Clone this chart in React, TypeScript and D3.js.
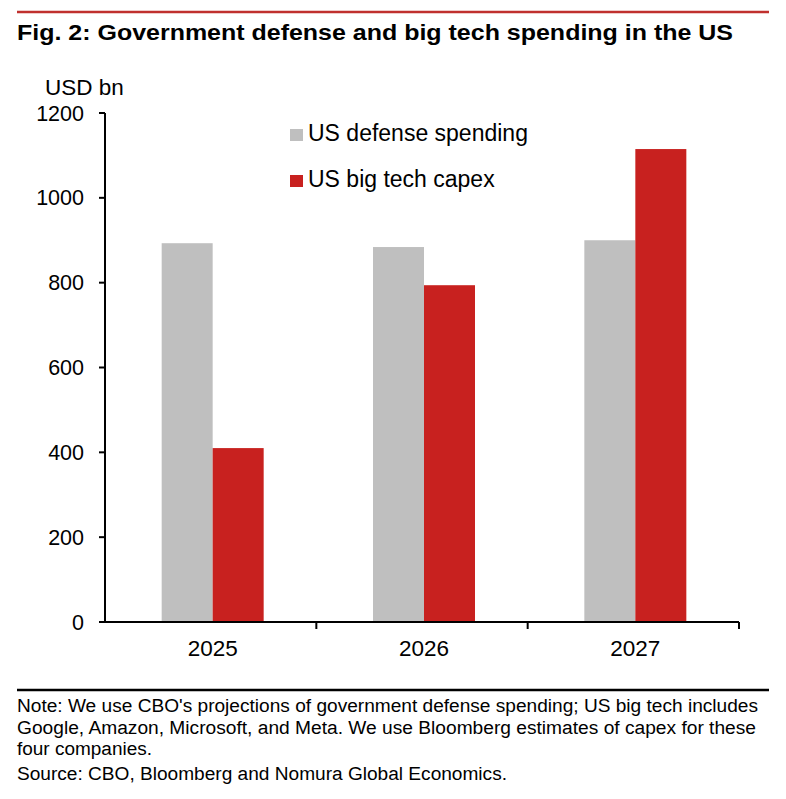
import * as d3 from 'd3';

const years = ['2025', '2026', '2027'];
const defenseSpending = [893, 884, 900];
const bigTechCapex = [410, 794, 1115];
const yTicks = [0, 200, 400, 600, 800, 1000, 1200];
const seriesNames = ['US defense spending', 'US big tech capex'];
const seriesColors = ['#bfbfbf', '#c8211f'];

const noteLines = [
  "Note: We use CBO's projections of government defense spending; US big tech includes",
  'Google, Amazon, Microsoft, and Meta. We use Bloomberg estimates of capex for these',
  'four companies.',
];
const sourceLine = 'Source: CBO, Bloomberg and Nomura Global Economics.';

const W = 786;
const H = 799;
const font = 'Liberation Sans, Arial, sans-serif';

export default function App() {
  const left = 105;
  const right = 739;
  const top = 113;
  const bottom = 622;

  const x = d3.scaleBand<string>().domain(years).range([left, right]);
  const y = d3.scaleLinear().domain([0, 1200]).range([bottom, top]);

  const barW = 51;
  const barShift = 2; // bars sit slightly right of the band centre in the original
  const series = [defenseSpending, bigTechCapex];
  // measured widths of the note lines in the original
  const noteWidths = [741, 739, 135];

  return (
    <svg
      width={W}
      height={H}
      style={{ position: 'absolute', left: 0, top: 0, background: '#fff' }}
      fontFamily={font}
    >
      <line x1={17} x2={769} y1={12} y2={12} stroke="#c0302e" strokeWidth={2.5} />
      <text x={17} y={40} fontSize={22.5} fontWeight="bold" fill="#000" textLength={716} lengthAdjust="spacingAndGlyphs">
        Fig. 2: Government defense and big tech spending in the US
      </text>

      <text x={45} y={95} fontSize={22.5} fill="#000">USD bn</text>

      {/* bars */}
      {years.map((yr, i) => {
        const cx = (x(yr) as number) + x.bandwidth() / 2 + barShift;
        return series.map((s, k) => (
          <rect
            key={yr + k}
            x={cx - barW + k * barW}
            y={y(s[i])}
            width={barW}
            height={y(0) - y(s[i])}
            fill={seriesColors[k]}
          />
        ));
      })}

      {/* y axis */}
      <line x1={left} x2={left} y1={top} y2={bottom} stroke="#000" strokeWidth={2} />
      {yTicks.map((t) => (
        <g key={t}>
          <line x1={left - 6} x2={left} y1={y(t)} y2={y(t)} stroke="#000" strokeWidth={2} />
          <text x={84} y={y(t) + 7.5} fontSize={21.5} textAnchor="end" fill="#000">
            {t}
          </text>
        </g>
      ))}

      {/* x axis */}
      <line x1={left} x2={right} y1={bottom} y2={bottom} stroke="#000" strokeWidth={2} />
      {years.map((yr) => (
        <line
          key={'t' + yr}
          x1={(x(yr) as number) + x.bandwidth()}
          x2={(x(yr) as number) + x.bandwidth()}
          y1={bottom}
          y2={bottom + 7}
          stroke="#000"
          strokeWidth={2}
        />
      ))}
      {years.map((yr) => (
        <text
          key={'l' + yr}
          x={(x(yr) as number) + x.bandwidth() / 2 + barShift}
          y={656}
          fontSize={22.5}
          textAnchor="middle"
          fill="#000"
        >
          {yr}
        </text>
      ))}

      {/* legend */}
      {seriesNames.map((n, k) => (
        <g key={n}>
          <rect x={290} y={129 + k * 46} width={13} height={12} fill={seriesColors[k]} />
          <text x={308} y={141 + k * 46} fontSize={23} fill="#000">
            {n}
          </text>
        </g>
      ))}

      {/* footer */}
      <line x1={17} x2={769} y1={690} y2={690} stroke="#000" strokeWidth={2.5} />
      {noteLines.map((l, i) => (
        <text
          key={i}
          x={17}
          y={712 + i * 21.5}
          fontSize={18}
          fill="#000"
          textLength={noteWidths[i]}
          lengthAdjust="spacingAndGlyphs"
        >
          {l}
        </text>
      ))}
      <text x={17} y={780} fontSize={18} fill="#000" textLength={490} lengthAdjust="spacingAndGlyphs">
        {sourceLine}
      </text>
    </svg>
  );
}
